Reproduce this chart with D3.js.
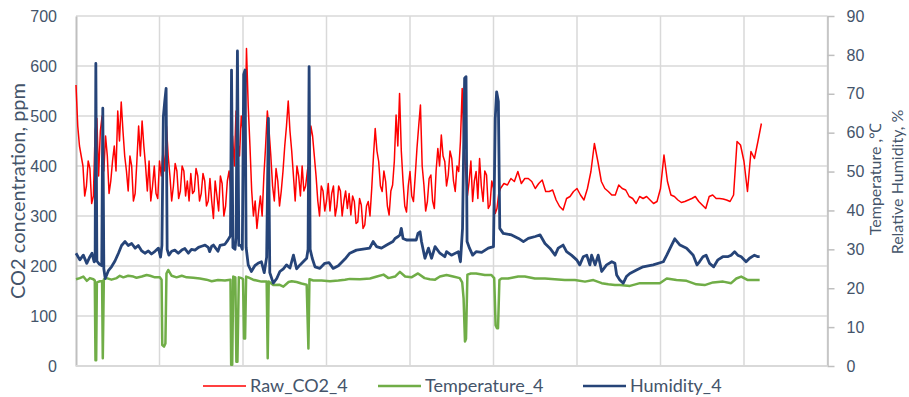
<!DOCTYPE html>
<html lang="en">
<head>
  <meta charset="UTF-8">
  <title>CO2, temperature and humidity</title>
  <script src="https://d3js.org/d3.v7.min.js"></script>
  <style>
    html, body {
      margin: 0;
      padding: 0;
      background: #fff;
    }
    svg {
      display: block;
      font-family: Lato, "Open Sans", sans-serif;
    }
    .tick text {
      fill: #44546a;
      font-size: 16px;
    }
    .title, .legend text {
      fill: #44546a;
    }
    .grid line {
      stroke: #d9d9d9;
      stroke-width: 1.5px;
    }
    .series {
      fill: none;
      stroke-linejoin: round;
    }
  </style>
</head>
<body>
  <svg id="chart" width="909" height="397"></svg>
  <script>
    // Raw CO2 (ppm), every half hour from hour 0 to hour 122 (noisy part)
    const co2HalfHourly = [
      562,480,440,420,400,340,360,410,395,325,340,470,495,380,470,500,390,460,420,345,370,410,440,390,
      510,450,528,470,420,390,350,420,400,330,345,410,480,420,490,440,400,350,410,330,360,400,345,335,
      410,380,430,390,480,420,380,330,360,405,390,335,350,400,390,340,370,330,385,345,350,395,380,330,
      345,385,370,320,330,375,330,295,370,340,310,380,365,300,320,370,390,350,460,400,510,450,420,500,
      470,410,635,520,440,350,300,330,275,310,340,300,380,440,510,470,420,360,330,395,370,320,350,390,
      440,480,530,470,430,380,330,400,380,340,400,350,360,390,410,480,460,420,380,330,300,360,350,310,
      330,365,310,345,360,300,320,360,350,300,330,350,315,345,302,340,329,285,288,335,322,275,282,320,
      329,300,355,420,475,430,409,360,349,390,369,320,302,350,362,410,502,440,545,430,369,320,308,360,
      389,340,329,380,435,480,522,400,362,310,329,375,382,330,315,390,435,400,462,420,409,360,382,430,
      415,370,349,400,389,450,555,440,389,340,369,410,329,370,389,335,415,360,329,390,382,315,322,370,
      355,305,315,345,355
    ];
    // Raw CO2 (ppm), hourly from hour 123 to hour 197 (calmer part)
    const co2Hourly = [
      365,362,375,369,389,365,375,375,369,355,365,372,349,349,352,332,319,312,335,339,349,
      355,342,332,355,389,445,409,369,355,349,342,342,362,355,352,339,335,325,339,335,339,332,325,329,
      355,422,369,342,339,332,327,329,332,335,339,329,322,315,339,342,335,335,334,332,329,342,449,442,
      409,349,429,415,449,485
    ];

    // Temperature (C): [hour, value]
    const temperature = [
      [0,22.3],[1.1,22.6],[2.1,23.0],[3.1,21.9],[4.0,22.6],[5.0,22.3],[5.4,22.0],[5.6,1.5],[5.8,1.5],
      [6.0,21.5],[6.9,21.8],[7.5,21.8],[7.7,2.0],[8.0,22.3],[8.8,22.6],[10.2,22.2],[11.7,22.6],
      [12.6,23.2],[13.6,22.8],[15.0,23.2],[16.5,23.0],[17.4,22.7],[18.9,23.0],[20.3,23.4],[21.3,23.2],
      [22.7,22.8],[24.1,22.8],[24.6,22.2],[24.8,5.4],[25.3,5.0],[25.7,5.8],[26.0,23.8],[26.5,24.7],
      [27.5,23.2],[28.9,22.8],[30.4,23.2],[31.8,22.8],[33.7,22.7],[35.6,22.5],[37.5,22.2],[39.0,21.8],
      [40.8,22.1],[42.8,22.0],[44.4,22.2],[44.6,0.3],[44.9,0.3],[45.2,23.0],[45.8,22.8],[46.1,1.1],
      [46.4,1.1],[46.8,22.8],[47.6,22.6],[48.0,22.3],[48.3,7.1],[48.6,7.1],[48.9,23.0],[49.5,22.8],
      [50.9,22.2],[53.3,21.7],[54.8,21.7],[55.1,2.0],[55.4,21.7],[56.7,20.8],[58.4,20.9],[59.6,20.4],
      [61.1,21.6],[62.0,21.8],[63.4,21.6],[64.8,21.2],[66.3,20.9],[66.8,4.5],[67.1,22.3],[68.2,22.0],
      [70.6,22.0],[73.0,21.8],[75.4,22.0],[77.3,22.2],[78.7,22.4],[81.6,22.3],[84.5,22.5],[86.5,23.0],
      [88.4,23.5],[89.8,22.6],[91.7,23.0],[93.1,24.2],[94.6,23.0],[96.4,22.8],[98.3,23.8],[100.2,22.6],
      [101.7,22.3],[103.2,22.2],[104.6,23.0],[106.5,23.4],[108.4,23.0],[110.3,22.6],[111.0,21.5],
      [111.4,17.4],[111.8,6.3],[112.1,7.0],[112.5,23.5],[113.5,23.8],[115.0,23.8],[117.5,23.4],
      [119.4,23.4],[120.2,22.6],[120.6,10.5],[121.0,9.7],[121.3,9.7],[121.7,22.1],[122.3,22.5],
      [124.2,22.5],[127.1,23.0],[129.0,23.0],[131.9,22.5],[134.8,22.5],[137.6,22.3],[140.5,22.1],
      [143.4,22.1],[146.3,21.7],[148.7,22.1],[151.1,21.3],[153.0,21.0],[154.9,20.8],[156.3,20.8],
      [159.2,20.6],[162.1,21.3],[164.9,21.3],[167.8,21.3],[169.8,22.5],[172.6,22.1],[175.5,21.9],
      [178.3,21.0],[180.7,20.8],[183.1,21.5],[186.0,21.7],[188.3,21.3],[189.8,22.5],[191.2,23.0],
      [193.1,22.1],[196.5,22.1]
    ];

    // Relative humidity (%): [hour, value]
    const humidity = [
      [0,29.0],[1.1,27.3],[2.1,28.5],[3.1,26.4],[4.0,28.1],[4.6,29.0],[5.2,26.8],[5.5,27.0],[5.7,77.8],
      [6.0,27.0],[6.7,26.2],[7.4,25.8],[7.7,66.3],[8.0,25.0],[8.4,22.5],[9.3,24.5],[10.2,25.5],
      [11.2,27.0],[12.2,29.0],[13.1,31.0],[14.1,32.0],[15.0,31.0],[16.0,31.5],[17.0,30.3],[17.9,31.0],
      [18.9,29.6],[19.8,29.0],[20.8,29.6],[21.7,28.8],[22.7,29.5],[23.7,30.3],[24.3,28.0],[24.7,31.0],
      [25.1,64.0],[25.5,68.0],[25.9,71.4],[26.2,30.0],[26.7,28.5],[27.5,29.5],[28.4,29.8],[29.4,29.0],
      [30.4,29.8],[31.3,30.2],[32.3,29.0],[33.2,30.0],[34.2,29.8],[35.2,30.5],[36.1,30.8],[37.1,31.1],
      [38.0,30.5],[38.4,29.4],[39.0,30.8],[39.5,31.1],[40.8,29.5],[41.4,31.0],[42.8,31.3],[43.6,32.3],
      [44.4,33.5],[44.7,76.1],[45.1,30.5],[45.7,30.0],[46.0,33.0],[46.4,81.0],[46.8,31.0],[47.4,31.0],
      [47.8,30.0],[48.2,75.0],[48.6,76.1],[48.9,30.5],[49.5,26.0],[50.4,24.3],[51.4,25.8],[52.3,26.4],
      [53.3,26.8],[54.1,24.0],[54.8,28.0],[55.3,63.7],[55.7,24.0],[56.7,21.3],[57.7,22.5],[58.6,24.3],
      [59.6,25.0],[60.5,26.0],[61.5,25.2],[62.5,28.5],[63.4,25.0],[64.4,26.0],[65.3,26.8],[66.3,27.7],
      [66.7,30.0],[67.0,77.0],[67.3,30.0],[67.9,27.7],[68.7,25.5],[70.1,25.1],[71.5,26.4],[72.7,26.6],
      [73.9,25.1],[75.4,25.8],[77.3,27.5],[78.7,29.0],[80.6,29.8],[84.4,30.3],[85.4,32.0],[86.4,30.7],
      [87.8,30.3],[89.3,31.1],[91.1,32.0],[91.7,32.8],[92.6,33.3],[93.1,33.7],[93.5,35.4],[94.0,32.8],
      [95.0,32.4],[97.8,32.4],[98.3,34.1],[98.9,34.5],[99.3,32.0],[100.3,27.7],[101.3,30.3],[102.2,27.7],
      [103.2,30.7],[104.6,29.0],[106.0,28.1],[106.5,29.4],[107.9,28.5],[109.9,29.4],[110.5,26.8],
      [111.1,35.4],[111.7,74.0],[112.1,74.4],[112.4,32.0],[113.1,30.3],[114.0,28.5],[115.0,29.4],
      [116.6,29.2],[118.5,30.3],[120.0,30.7],[120.5,63.7],[120.9,70.5],[121.4,68.0],[121.8,35.4],
      [122.8,34.1],[125.2,33.7],[127.2,32.8],[128.6,32.0],[130.0,32.8],[132.0,33.3],[133.4,33.7],
      [134.8,31.5],[136.2,30.3],[137.7,28.5],[138.6,30.3],[140.0,31.1],[141.0,29.4],[142.4,28.5],
      [143.9,27.3],[144.8,26.0],[145.8,28.1],[146.8,28.5],[147.7,26.0],[148.2,28.5],[149.2,26.0],
      [150.1,28.5],[151.1,24.3],[152.5,26.0],[154.0,26.8],[154.9,26.4],[155.4,23.4],[156.3,22.1],
      [157.3,21.3],[158.2,23.0],[159.2,23.8],[161.1,24.7],[163.0,25.5],[165.9,26.0],[168.8,26.8],
      [169.8,28.5],[171.2,31.1],[172.1,32.7],[173.6,31.1],[175.5,30.3],[177.4,28.5],[178.5,26.0],
      [179.2,26.8],[180.2,28.1],[181.1,28.5],[182.1,26.4],[183.3,25.5],[184.5,27.3],[185.9,28.1],
      [187.3,28.1],[188.3,28.5],[189.3,29.4],[190.2,28.5],[191.2,28.1],[192.6,26.8],[193.6,27.7],
      [195.0,28.5],[196.0,28.1],[196.5,28.1]
    ];

    const co2Ticks = [0, 100, 200, 300, 400, 500, 600, 700];
    const rightTicks = [0, 10, 20, 30, 40, 50, 60, 70, 80, 90];
    const dayTicks = [0, 24, 48, 72, 96, 120, 144, 168, 192, 216];
    const seriesNames = ["Raw_CO2_4", "Temperature_4", "Humidity_4"];
    const seriesColors = ["#ff0000", "#70ad47", "#264478"];

    // CO2 as [hour, value]
    const co2 = co2HalfHourly.map((v, i) => [i * 0.5, v])
      .concat(co2Hourly.map((v, i) => [123 + i, v]));

    const svg = d3.select("#chart");
    const margin = { top: 16, right: 81.5, bottom: 31, left: 76 };
    const width = 909 - margin.left - margin.right;
    const height = 397 - margin.top - margin.bottom;

    const x = d3.scaleLinear().domain([0, 216]).range([0, width]);
    const yLeft = d3.scaleLinear().domain([0, 700]).range([height, 0]);
    const yRight = d3.scaleLinear().domain([0, 90]).range([height, 0]);

    const g = svg.append("g")
      .attr("transform", `translate(${margin.left},${margin.top})`);

    // Grid
    const grid = g.append("g").attr("class", "grid");
    grid.selectAll(".h")
      .data(co2Ticks.slice(1))
      .enter().append("line")
      .attr("x1", 0).attr("x2", width)
      .attr("y1", d => yLeft(d)).attr("y2", d => yLeft(d));
    grid.selectAll(".v")
      .data(dayTicks.slice(1))
      .enter().append("line")
      .attr("x1", d => x(d)).attr("x2", d => x(d))
      .attr("y1", 0).attr("y2", height);

    // Axes
    const leftAxis = g.append("g")
      .call(d3.axisLeft(yLeft).tickValues(co2Ticks).tickSize(0).tickPadding(19));
    leftAxis.select(".domain").attr("stroke", "#bfbfbf").attr("stroke-width", 2);

    const rightAxis = g.append("g")
      .attr("transform", `translate(${width},0)`)
      .call(d3.axisRight(yRight).tickValues(rightTicks).tickSize(7).tickSizeOuter(0).tickPadding(12));
    rightAxis.select(".domain").attr("stroke", "#bfbfbf").attr("stroke-width", 1.5);
    rightAxis.selectAll(".tick line").attr("stroke", "#bfbfbf").attr("stroke-width", 1.5);

    g.append("line")
      .attr("x1", 0).attr("x2", width)
      .attr("y1", height).attr("y2", height)
      .attr("stroke", "#d9d9d9").attr("stroke-width", 2);

    // Series
    const leftLine = d3.line()
      .x(d => x(d[0]))
      .y(d => yLeft(d[1]));
    const rightLine = d3.line()
      .x(d => x(d[0]))
      .y(d => yRight(d[1]));

    g.append("path")
      .datum(co2)
      .attr("class", "series")
      .attr("stroke", seriesColors[0])
      .attr("stroke-width", 1.5)
      .attr("d", leftLine);

    g.append("path")
      .datum(temperature)
      .attr("class", "series")
      .attr("stroke", seriesColors[1])
      .attr("stroke-width", 2.5)
      .attr("d", rightLine);

    g.append("path")
      .datum(humidity)
      .attr("class", "series")
      .attr("stroke", seriesColors[2])
      .attr("stroke-width", 2.8)
      .attr("d", rightLine);

    // Axis titles
    svg.append("text")
      .attr("class", "title")
      .attr("transform", "translate(25,191) rotate(-90)")
      .attr("text-anchor", "middle")
      .style("font-size", "20px")
      .text("CO2 concentration, ppm");

    svg.append("text")
      .attr("class", "title")
      .attr("transform", "translate(881,179) rotate(-90)")
      .attr("text-anchor", "middle")
      .style("font-size", "16px")
      .text("Temperature ,\u2103");

    svg.append("text")
      .attr("class", "title")
      .attr("transform", "translate(903,182) rotate(-90)")
      .attr("text-anchor", "middle")
      .style("font-size", "16px")
      .text("Relative Humidity, %");

    // Legend
    const legendX = [203, 378, 583];
    const legend = svg.append("g").attr("class", "legend");
    seriesNames.forEach((name, i) => {
      legend.append("line")
        .attr("x1", legendX[i]).attr("x2", legendX[i] + 43)
        .attr("y1", 386).attr("y2", 386)
        .attr("stroke", seriesColors[i])
        .attr("stroke-width", i === 0 ? 1.6 : 2.5);
      legend.append("text")
        .attr("x", legendX[i] + 47)
        .attr("y", 392)
        .style("font-size", "18px")
        .text(name);
    });
  </script>
</body>
</html>
